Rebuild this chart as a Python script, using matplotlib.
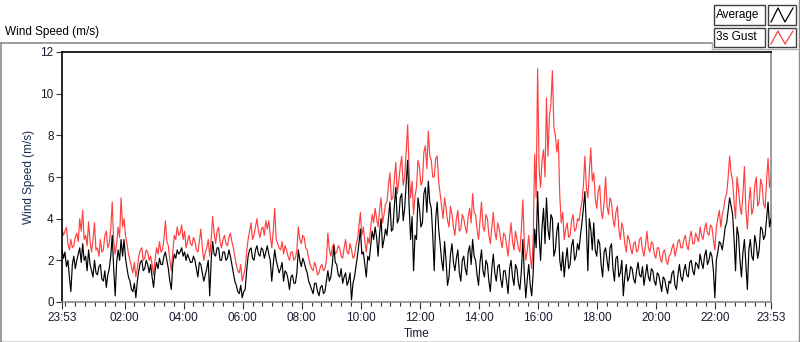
import numpy as np
import matplotlib
matplotlib.use("Agg")
import matplotlib.pyplot as plt
from matplotlib.lines import Line2D
from matplotlib.patches import Rectangle

# ---------------- data (3-minute samples starting 23:53) ----------------
sample_minutes = 3
gust_values = [
    3.5,3.2, 3.4,3.6, 2.8,2.5, 3.0,2.6, 2.7,3.1, 3.3,2.9, 4.0,3.4, 4.4,3.0, 3.2,2.7, 3.85,2.9,
    2.4,3.0, 3.8,2.5, 2.6,2.2, 3.0,2.4, 2.5,3.2, 3.4,2.6, 2.8,3.5, 4.8,2.9, 2.3,2.8, 3.6,3.1,
    5.0,3.6, 4.0,3.2, 2.8,2.3, 2.0,1.7, 1.4,1.9, 1.2,1.6, 2.2,2.5, 2.6,2.0, 2.1,2.5, 2.4,2.0,
    2.2,1.8, 1.3,2.0, 2.6,2.3, 2.9,2.4, 2.5,3.0, 3.9,2.9, 2.7,2.0, 1.5,2.4, 3.2,3.0, 3.6,3.2,
    3.3,3.7, 3.0,3.4, 2.6,2.9, 3.2,2.8, 2.7,3.1, 2.9,2.5, 2.4,2.9, 3.5,2.6, 2.0,2.4, 2.6,3.0,
    2.2,3.0, 4.1,3.3, 2.8,3.4, 3.6,2.9, 2.6,3.0, 3.2,2.8, 2.7,3.1, 3.3,2.9, 2.6,2.2, 1.8,1.5,
    1.4,1.8, 1.0,1.3, 1.6,2.4, 3.0,3.4, 3.8,3.0, 3.2,3.6, 4.0,3.4, 3.1,3.5, 3.6,3.2, 3.9,3.5,
    3.9,3.2, 2.6,3.4, 4.5,3.0, 2.8,2.6, 2.5,2.9, 2.3,2.7, 2.5,2.2, 2.0,2.4, 2.4,2.0, 2.1,2.5,
    3.6,3.0, 2.8,3.2, 3.1,2.6, 2.5,2.1, 1.8,1.6, 1.5,1.9, 1.7,1.3, 1.4,1.7, 1.8,1.5, 1.6,2.0,
    3.3,2.5, 2.2,2.6, 2.8,2.3, 2.4,2.7, 2.6,2.2, 2.1,2.6, 3.0,2.4, 2.3,2.8, 2.5,2.1, 2.2,2.7,
    3.0,3.6, 4.3,3.2, 3.6,2.9, 2.4,3.1, 2.8,3.6, 4.2,3.8, 4.5,4.0, 3.6,4.4, 5.0,3.8, 4.2,4.7,
    4.8,5.6, 6.2,4.9, 5.0,5.9, 6.7,5.2, 5.8,6.5, 7.0,5.6, 6.0,7.2, 8.5,6.3, 5.0,5.8, 4.2,5.1,
    5.5,6.8, 6.5,5.6, 5.8,7.2, 7.5,6.4, 8.2,7.0, 6.8,6.0, 6.0,6.9, 7.0,5.8, 5.2,4.6, 4.0,5.0,
    4.5,3.9, 3.6,4.6, 4.2,3.6, 3.2,4.0, 4.4,3.4, 3.5,4.2, 4.0,3.6, 3.3,4.1, 4.5,3.8, 5.2,4.3,
    4.2,3.5, 3.0,3.9, 4.8,3.6, 3.4,4.2, 4.0,3.2, 2.8,3.6, 4.3,3.4, 3.0,3.8, 3.5,3.0, 2.6,3.3,
    3.2,2.7, 2.2,3.1, 3.8,2.9, 2.5,3.4, 3.0,2.6, 2.4,3.5, 4.9,2.8, 2.0,2.5, 3.2,2.2, 1.6,3.0,
    7.1,5.0, 11.2,6.4, 5.5,6.8, 7.3,6.0, 9.8,7.0, 8.9,9.5, 11.1,8.4, 8.0,7.2, 7.8,5.1, 3.8,4.3,
    3.0,3.5, 3.8,3.1, 3.2,3.9, 4.2,3.4, 3.5,4.0, 3.9,4.4, 4.8,5.6, 7.0,5.5, 5.0,6.2, 7.4,5.8,
    6.2,5.0, 4.5,5.3, 5.6,4.4, 4.0,4.8, 6.0,4.6, 4.2,5.0, 4.8,4.0, 3.6,4.3, 4.6,3.5, 3.0,3.8,
    3.5,2.8, 2.4,3.2, 3.0,2.6, 2.3,2.8, 2.9,2.4, 2.5,3.0, 3.1,2.5, 2.2,2.7, 3.4,2.6, 2.4,2.9,
    2.8,2.3, 2.1,2.6, 2.6,2.1, 1.9,2.4, 2.5,2.0, 1.8,2.2, 2.3,2.6, 2.8,2.2, 2.5,2.9, 3.0,2.6,
    2.6,3.0, 3.2,2.7, 2.5,3.1, 3.4,2.8, 2.8,3.3, 3.1,2.9, 3.6,3.2, 3.0,3.5, 3.8,3.3, 3.2,3.7,
    3.6,3.0, 2.5,3.6, 4.0,4.4, 3.6,4.2, 4.5,5.0, 5.2,6.0, 7.0,6.2, 5.8,4.8, 4.0,6.0, 5.4,4.6,
    4.2,5.2, 6.5,4.4, 3.5,4.8, 5.5,4.2, 4.5,5.6, 6.0,4.6, 4.8,5.9, 5.6,4.7, 4.5,5.8, 6.9,5.5,
    6.0,
]
average_values = [
    2.5,2.1, 2.4,1.7, 2.0,1.2, 0.5,1.8, 2.2,1.6, 2.0,2.3, 2.6,1.9, 2.8,2.0, 2.2,1.5, 2.5,1.8,
    1.5,1.2, 2.0,1.4, 1.3,1.7, 1.8,1.1, 1.0,1.5, 0.7,1.3, 1.6,2.2, 3.2,1.6, 0.3,1.9, 2.5,2.0,
    3.0,2.2, 3.0,2.1, 1.6,1.2, 1.0,0.6, 0.5,0.9, 0.2,1.0, 1.5,1.9, 2.0,1.5, 1.6,2.0, 1.8,1.4,
    1.8,1.2, 0.7,1.5, 1.9,1.6, 2.1,1.8, 1.8,2.2, 2.4,2.0, 1.6,1.0, 0.6,1.8, 2.3,2.1, 2.5,2.3,
    2.4,2.6, 2.2,2.4, 2.0,2.3, 2.1,1.9, 1.9,2.2, 2.0,1.6, 1.2,1.9, 1.8,1.4, 1.0,1.3, 1.6,2.0,
    0.3,2.0, 2.9,2.3, 2.2,2.6, 2.6,2.0, 2.0,2.4, 2.4,2.0, 2.1,2.5, 2.2,1.8, 1.4,1.0, 0.8,0.5,
    0.4,0.8, 0.2,0.5, 0.6,1.5, 2.2,2.5, 2.6,2.1, 2.0,2.5, 2.7,2.3, 2.2,2.6, 2.5,2.1, 2.4,2.7,
    2.3,2.0, 1.0,1.8, 2.5,2.0, 1.7,1.4, 1.6,1.9, 1.0,1.5, 1.4,1.1, 0.6,1.2, 1.3,0.9, 0.9,1.4,
    2.5,2.0, 1.7,2.1, 1.9,1.6, 1.4,1.0, 0.8,0.6, 0.4,0.9, 0.9,0.5, 0.3,0.7, 0.8,0.4, 0.5,1.0,
    1.5,1.0, 1.2,1.8, 2.7,1.9, 1.8,1.3, 1.2,1.6, 0.9,1.2, 1.4,0.8, 1.0,1.4, 0.1,0.9, 1.2,1.7,
    2.2,2.8, 3.5,2.3, 2.4,1.8, 1.2,2.2, 2.0,2.7, 3.4,3.0, 3.6,3.1, 2.2,3.3, 4.0,2.6, 3.0,3.5,
    3.2,4.0, 4.8,3.4, 3.5,4.6, 5.5,3.8, 4.0,5.0, 5.2,3.9, 4.5,5.7, 6.8,4.6, 3.0,4.1, 1.5,3.2,
    3.0,5.0, 4.5,3.6, 3.8,5.2, 5.5,4.3, 5.8,4.8, 4.5,3.2, 1.5,4.0, 4.8,3.5, 2.8,2.0, 1.5,2.9,
    2.0,0.8, 1.2,2.3, 2.8,1.9, 1.5,2.1, 2.5,1.4, 1.0,2.0, 2.2,1.6, 1.3,2.4, 2.7,1.8, 3.0,2.2,
    2.0,1.3, 0.8,1.9, 2.5,1.5, 1.2,2.0, 1.8,1.0, 0.5,1.6, 2.3,1.4, 1.0,1.7, 1.8,1.1, 0.7,1.5,
    1.5,1.0, 0.4,1.6, 2.0,1.2, 0.8,1.8, 1.6,0.9, 0.6,1.5, 3.0,1.3, 0.2,1.1, 1.8,0.8, 0.3,1.4,
    3.5,2.6, 5.3,3.2, 2.0,3.6, 4.5,2.8, 5.0,3.5, 3.0,4.2, 4.0,2.2, 2.5,3.4, 3.8,2.0, 1.5,2.4,
    1.2,2.0, 2.6,1.6, 1.8,2.7, 3.0,2.0, 2.2,2.8, 2.5,3.2, 3.8,4.5, 5.3,3.6, 1.5,4.0, 3.5,2.5,
    3.8,2.5, 2.2,3.0, 2.8,1.8, 1.2,2.4, 2.6,2.0, 1.5,2.6, 2.8,1.6, 1.0,2.1, 2.2,1.2, 1.4,2.0,
    0.3,1.2, 1.8,1.0, 1.2,1.7, 1.6,1.1, 0.9,1.5, 1.9,1.3, 1.2,1.7, 0.8,1.3, 1.8,1.2, 1.0,1.6,
    1.5,1.0, 0.8,1.4, 1.3,0.9, 0.5,1.2, 1.1,0.7, 0.4,1.0, 0.9,1.4, 1.5,0.8, 0.6,1.3, 1.8,1.2,
    1.0,1.5, 1.8,1.3, 1.2,1.9, 2.0,1.5, 1.3,1.9, 1.8,1.6, 2.3,1.9, 1.6,2.2, 2.5,1.8, 2.0,2.4,
    2.2,1.5, 0.2,2.0, 2.4,2.9, 2.8,2.5, 3.0,3.6, 3.8,4.4, 5.0,4.6, 4.2,3.0, 1.5,3.6, 3.2,2.0,
    1.2,2.4, 3.0,1.8, 0.6,2.5, 3.0,2.2, 2.0,3.2, 2.8,2.1, 2.5,3.6, 3.5,3.0, 3.2,4.0, 4.8,3.6,
    4.0,
]
tick_labels = ["23:53", "02:00", "04:00", "06:00", "08:00", "10:00", "12:00",
               "14:00", "16:00", "18:00", "20:00", "22:00", "23:53"]
start_minute = 23 * 60 + 53
y_ticks = [0, 2, 4, 6, 8, 10, 12]
legend_names = ["Average", "3s Gust"]

# ---------------- figure ----------------
W, H = 800, 342
fig = plt.figure(figsize=(W / 100, H / 100), dpi=100)
fig.patch.set_facecolor("white")
FONT = "Liberation Sans"
TXT = "#1a1a2e"


def fx(x):
    return x / W


def fy(y):
    return 1 - y / H


L, R, T, B = 62, 771, 52, 302
ax = fig.add_axes([fx(L), fy(B), (R - L) / W, (B - T) / H])

hours = np.arange(len(gust_values)) * sample_minutes / 60.0
ax.plot(hours, gust_values, color="#ff4040", lw=0.85, zorder=2)
ax.plot(hours, average_values, color="black", lw=0.85, zorder=3)

ax.set_xlim(0, 24)
ax.set_ylim(0, 12)


def to_hours(label):
    h, m = map(int, label.split(":"))
    return (h * 60 + m - start_minute) % 1440 / 60.0


major = [to_hours(t) for t in tick_labels]
major[-1] = 24.0
ax.set_xticks(major)
ax.set_xticklabels(tick_labels, fontsize=8.5, family=FONT, color=TXT)
minor = [((20 * k + 7) / 60.0) for k in range(0, 72)]
minor = [m for m in minor if 0 < m < 24]
ax.set_xticks(minor, minor=True)
ax.tick_params(axis="x", which="major", length=5, width=0.8, color="#333333", pad=2)
ax.tick_params(axis="x", which="minor", length=3, width=0.8, color="#333333")

ax.set_yticks(y_ticks)
ax.set_yticklabels([str(v) for v in y_ticks], fontsize=8.5, family=FONT, color=TXT)
ax.tick_params(axis="y", which="major", length=4, width=0.8, color="#333333", pad=2)

ax.set_xlabel("Time", fontsize=8.5, family=FONT, color=TXT, labelpad=3)
ax.set_ylabel("Wind Speed (m/s)", fontsize=8.5, family=FONT, color="#1c2c50", labelpad=4)

for side, c in [("left", "black"), ("top", "black"), ("right", "#8a8a8a"), ("bottom", "#8a8a8a")]:
    ax.spines[side].set_color(c)
    ax.spines[side].set_linewidth(1.2)

# outer frame
grey = "#8c8c8c"
fig.add_artist(Line2D([fx(0), fx(712)], [fy(42.5), fy(42.5)], color=grey, lw=1.2))
fig.add_artist(Line2D([fx(0.6), fx(0.6)], [fy(42.5), fy(341.5)], color=grey, lw=1.2))
fig.add_artist(Line2D([fx(0.6), fx(798.5)], [fy(341.5), fy(341.5)], color="#3a3a3a", lw=1.0))
fig.add_artist(Line2D([fx(798.5), fx(798.5)], [fy(0), fy(341.5)], color=grey, lw=1.0))
fig.add_artist(Line2D([fx(712), fx(798.5)], [fy(49), fy(49)], color="#b0b0b0", lw=1.0))
fig.add_artist(Line2D([fx(712), fx(712)], [fy(42.5), fy(49)], color="#b0b0b0", lw=1.0))

fig.text(fx(5), fy(32), "Wind Speed (m/s)", fontsize=8.5, family=FONT, color="black",
         va="center", ha="left")

# legend
rows = [(5, 25), (28, 47)]
colors = ["black", "#ff4040"]
for (y0, y1), name, c in zip(rows, legend_names, colors):
    fig.add_artist(Rectangle((fx(714), fy(y1)), (765 - 714) / W, (y1 - y0) / H,
                             facecolor="white", edgecolor="#404040", lw=1.0))
    fig.text(fx(716), fy((y0 + y1) / 2), name, fontsize=8.5, family=FONT,
             color="black", va="center", ha="left")
    fig.add_artist(Rectangle((fx(768), fy(y1)), (796 - 768) / W, (y1 - y0) / H,
                             facecolor="white", edgecolor="#404040", lw=1.0))
    zx = [771, 778, 785, 793]
    zy = [y1 - 3, y0 + 3, y1 - 3, y0 + 3]
    fig.add_artist(Line2D([fx(v) for v in zx], [fy(v) for v in zy], color=c, lw=0.9))

fig.savefig("out.png", dpi=100, facecolor="white")
